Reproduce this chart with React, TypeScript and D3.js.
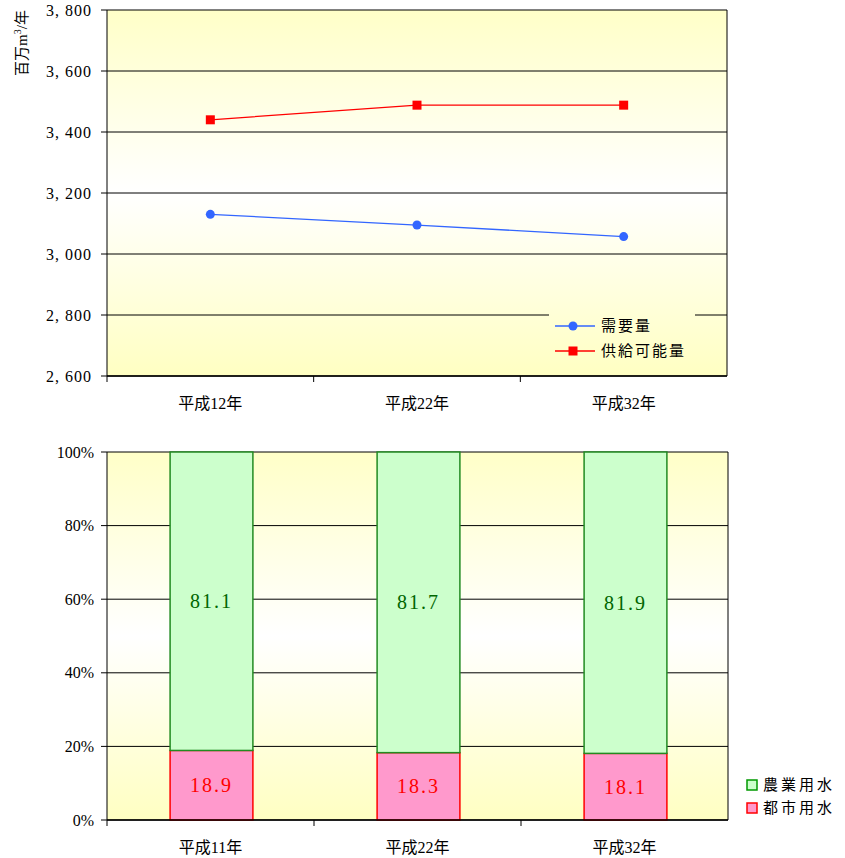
import React from "react";
import * as d3 from "d3";

const lineCategories = ["平成12年", "平成22年", "平成32年"];
const demand = [3130, 3095, 3057];
const supply = [3440, 3488, 3488];
const lineTicks = [2600, 2800, 3000, 3200, 3400, 3600, 3800];

const barCategories = ["平成11年", "平成22年", "平成32年"];
const urban = [18.9, 18.3, 18.1];
const agri = [81.1, 81.7, 81.9];
const pctTicks = [0, 20, 40, 60, 80, 100];

const SERIF = "'Liberation Serif','DejaVu Serif','Noto Sans CJK JP',serif";
const CJK = "'Noto Sans CJK JP','Liberation Serif',serif";

export default function App() {
  const W = 845, H = 858;
  const L = 107, R = 727;
  const t1 = 10, b1 = 376;
  const t2 = 452, b2 = 820;

  const x1 = d3.scaleBand().domain(lineCategories).range([L, R]);
  const y1 = d3.scaleLinear().domain([2600, 3800]).range([b1, t1]);
  const x2 = d3.scaleBand().domain(barCategories).range([L + 1, R + 2]).paddingInner(0.6).paddingOuter(0.3);
  const xb2 = d3.scaleBand().domain(barCategories).range([L, R + 1]);
  const y2 = d3.scaleLinear().domain([0, 100]).range([b2, t2]);

  const cx = (c: string) => (x1(c) as number) + x1.bandwidth() / 2;
  const line = d3.line<number>().x((_, i) => cx(lineCategories[i])).y((d) => y1(d));
  const fmt = d3.format(",");

  return (
    <svg width={W} height={H} style={{ position: "absolute", left: 0, top: 0 }}>
      <defs>
        <linearGradient id="g1" gradientUnits="userSpaceOnUse" x1="0" y1={t1} x2="0" y2={b1}>
          <stop offset="0" stopColor="#FFFFC8" />
          <stop offset="0.5" stopColor="#FFFFFF" />
          <stop offset="1" stopColor="#FFFFC2" />
        </linearGradient>
        <linearGradient id="g2" gradientUnits="userSpaceOnUse" x1="0" y1={t2} x2="0" y2={b2}>
          <stop offset="0" stopColor="#FFFFC8" />
          <stop offset="0.5" stopColor="#FFFFFF" />
          <stop offset="1" stopColor="#FFFFC2" />
        </linearGradient>
      </defs>
      <rect x={0} y={0} width={W} height={H} fill="#fff" />

      {/* TOP CHART */}
      <rect x={L} y={t1} width={R - L} height={b1 - t1} fill="url(#g1)" />
      {lineTicks.map((t) => (
        <g key={t}>
          <line x1={L - 6} x2={R} y1={y1(t)} y2={y1(t)} stroke="#000" strokeWidth={1} />
          <text x={L - 15} y={y1(t)} dy="0.35em" textAnchor="end" fontFamily={SERIF} fontSize={16} letterSpacing={1}>
            {fmt(t).replace(",", ", ")}
          </text>
        </g>
      ))}
      {/* legend */}
      <rect x={549} y={305} width={146} height={65} fill="url(#g1)" />
      <line x1={L} x2={L} y1={t1} y2={b1 + 6} stroke="#000" />
      <line x1={R} x2={R} y1={t1} y2={b1} stroke="#000" />
      <line x1={L} x2={R} y1={b1} y2={b1} stroke="#000" strokeWidth={1.5} />
      {lineCategories.map((c, i) => (
        <g key={c}>
          {i > 0 && <line x1={x1(c)} x2={x1(c)} y1={b1} y2={b1 + 6} stroke="#000" />}
          <text x={cx(c)} y={409} textAnchor="middle" fontFamily={SERIF} fontSize={16}>{c}</text>
        </g>
      ))}
      <path d={line(demand) || ""} fill="none" stroke="#3366FF" strokeWidth={1.3} />
      <path d={line(supply) || ""} fill="none" stroke="#FF0000" strokeWidth={1.3} />
      {demand.map((d, i) => (
        <circle key={i} cx={cx(lineCategories[i])} cy={y1(d)} r={4.5} fill="#3366FF" />
      ))}
      {supply.map((d, i) => (
        <rect key={i} x={cx(lineCategories[i]) - 4.5} y={y1(d) - 4.5} width={9} height={9} fill="#FF0000" />
      ))}
      <g>
        <line x1={555} x2={595} y1={326} y2={326} stroke="#3366FF" strokeWidth={1.3} />
        <circle cx={573} cy={326} r={4.5} fill="#3366FF" />
        <text x={601} y={326} dy="0.35em" fontFamily={CJK} fontSize={15} letterSpacing={2}>需要量</text>
        <line x1={555} x2={595} y1={351} y2={351} stroke="#FF0000" strokeWidth={1.3} />
        <rect x={568.5} y={346.5} width={9} height={9} fill="#FF0000" />
        <text x={601} y={351} dy="0.35em" fontFamily={CJK} fontSize={15} letterSpacing={2}>供給可能量</text>
      </g>
      <text transform="translate(27,43) rotate(-90)" textAnchor="middle" fontFamily={SERIF} fontSize={15}>
        百万m<tspan dy={-6} fontSize={10}>3</tspan><tspan dy={6}>/年</tspan>
      </text>

      {/* BOTTOM CHART */}
      <rect x={L} y={t2} width={R - L + 1} height={b2 - t2} fill="url(#g2)" />
      {pctTicks.map((t) => (
        <g key={t}>
          <line x1={L - 6} x2={R + 1} y1={y2(t)} y2={y2(t)} stroke="#000" strokeWidth={1} />
          <text x={L - 13} y={y2(t)} dy="0.35em" textAnchor="end" fontFamily={SERIF} fontSize={16}>{t}%</text>
        </g>
      ))}
      {barCategories.map((c, i) => {
        const bx = x2(c) as number;
        const bw = x2.bandwidth();
        const midX = bx + bw / 2;
        return (
          <g key={c}>
            <rect x={bx} y={y2(urban[i])} width={bw} height={y2(0) - y2(urban[i])} fill="#FF99CC" stroke="#FF0000" strokeWidth={1.5} />
            <rect x={bx} y={y2(100)} width={bw} height={y2(urban[i]) - y2(100)} fill="#CCFFCC" stroke="#228B22" strokeWidth={1.5} />
            <text x={midX} y={(y2(0) + y2(urban[i])) / 2} dy="0.35em" textAnchor="middle" fontFamily={SERIF} fontSize={20} fill="#FF0000" letterSpacing={2}>
              {urban[i].toFixed(1)}
            </text>
            <text x={midX} y={(y2(urban[i]) + y2(100)) / 2} dy="0.35em" textAnchor="middle" fontFamily={SERIF} fontSize={20} fill="#006600" letterSpacing={2}>
              {agri[i].toFixed(1)}
            </text>
          </g>
        );
      })}
      <line x1={L} x2={L} y1={t2} y2={b2 + 6} stroke="#000" />
      <line x1={R + 1} x2={R + 1} y1={t2} y2={b2} stroke="#000" />
      <line x1={L} x2={R + 1} y1={b2} y2={b2} stroke="#000" strokeWidth={1.5} />
      {barCategories.map((c, i) => (
        <g key={c}>
          {i > 0 && <line x1={xb2(c)} x2={xb2(c)} y1={b2} y2={b2 + 6} stroke="#000" />}
          <text x={(xb2(c) as number) + xb2.bandwidth() / 2} y={853} textAnchor="middle" fontFamily={SERIF} fontSize={16}>{c}</text>
        </g>
      ))}
      <g>
        <rect x={747} y={780} width={10} height={10} fill="#CCFFCC" stroke="#009900" strokeWidth={1.5} />
        <text x={763} y={785} dy="0.35em" fontFamily={CJK} fontSize={15} letterSpacing={3}>農業用水</text>
        <rect x={747} y={803} width={10} height={10} fill="#FF99CC" stroke="#FF0000" strokeWidth={1.5} />
        <text x={763} y={808} dy="0.35em" fontFamily={CJK} fontSize={15} letterSpacing={3}>都市用水</text>
      </g>
    </svg>
  );
}
